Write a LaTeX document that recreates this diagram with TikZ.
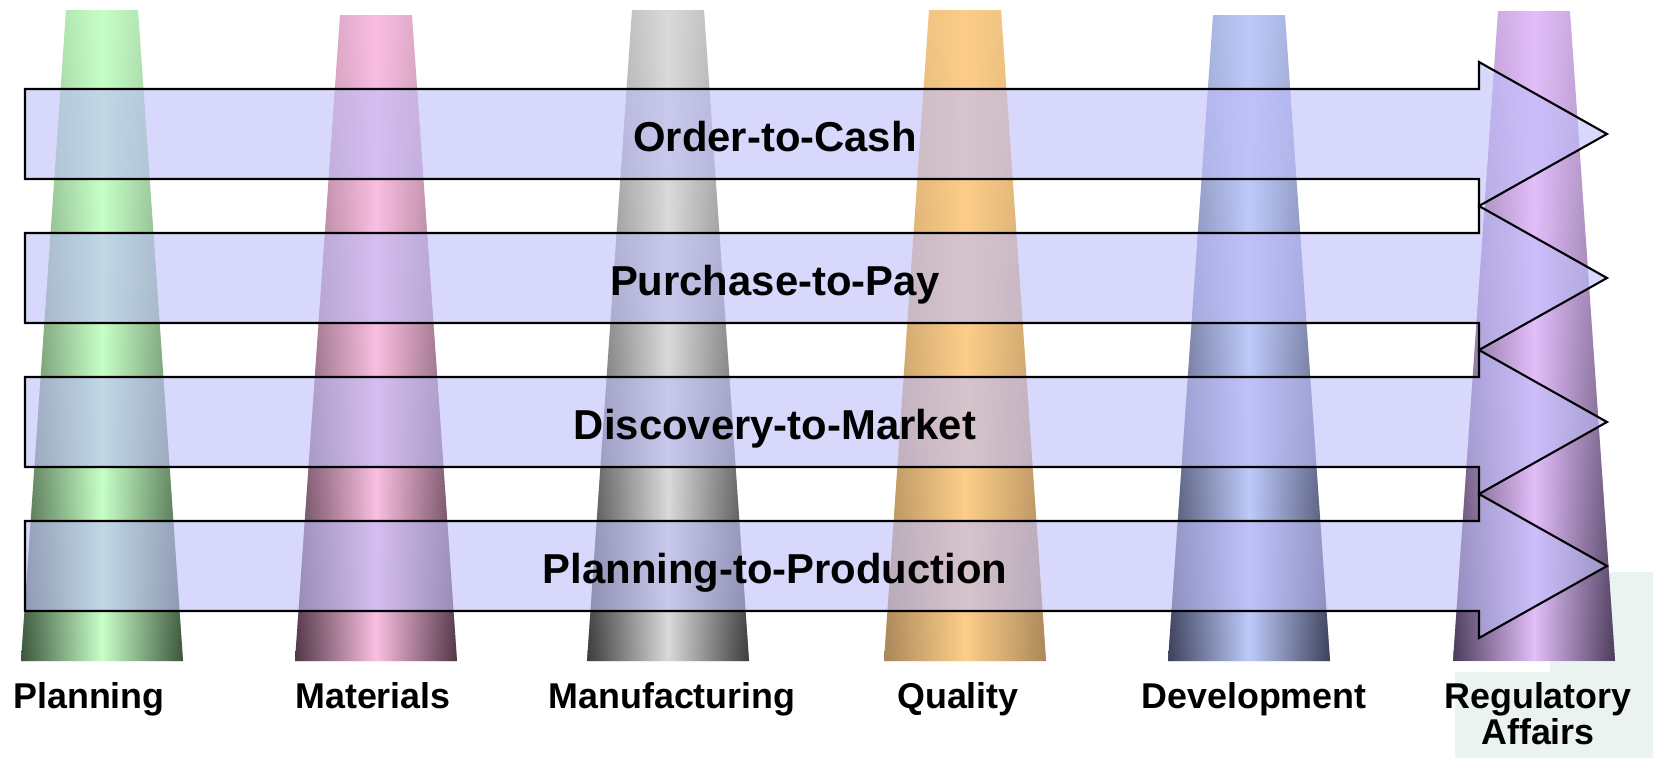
\documentclass[tikz,border=0pt]{standalone}
\usepackage{fontspec}
\setmainfont{Liberation Sans}
\usetikzlibrary{fadings}

\definecolor{liteplan}{RGB}{199,255,199}
\definecolor{darkplan}{RGB}{60,85,60}
\definecolor{litemat}{RGB}{250,190,225}
\definecolor{darkmat}{RGB}{80,55,70}
\definecolor{litemanu}{RGB}{218,218,218}
\definecolor{darkmanu}{RGB}{60,60,60}
\definecolor{litequal}{RGB}{253,206,137}
\definecolor{darkqual}{RGB}{170,135,90}
\definecolor{litedev}{RGB}{190,202,250}
\definecolor{darkdev}{RGB}{60,65,90}
\definecolor{litereg}{RGB}{226,190,250}
\definecolor{darkreg}{RGB}{75,60,90}
\definecolor{flowfill}{RGB}{190,190,250}
\definecolor{bgpatch}{RGB}{235,243,240}

\begin{document}
\begin{tikzpicture}[x=0.02cm,y=-0.02cm,
                    flow/.style={draw=black, line width=1.2pt, fill=flowfill, fill opacity=0.6},
                    flow label/.style={font=\bfseries\fontsize{23.8}{24}\selectfont, anchor=base},
                    area label/.style={font=\bfseries\fontsize{20.4}{20}\selectfont, anchor=base, align=center}]

  \useasboundingbox (0,0) rectangle (1653,758);

  %Background%
  \fill[bgpatch] (1550,572) rectangle (1653,758);
  \fill[bgpatch] (1455,672) rectangle (1653,758);

  %Pillars%
  \foreach \cx/\ty/\col in {102/10/plan, 376/15/mat, 668/10/manu, 965/10/qual, 1249/15/dev, 1534/11/reg} {
    \path[left color=dark\col!30!lite\col, right color=dark\col!30!lite\col, middle color=lite\col]
      (\cx-36,\ty) -- (\cx+36,\ty) -- (\cx+81,661) -- (\cx-81,661) -- cycle;
    \path[left color=dark\col, right color=dark\col, middle color=lite\col, path fading=north]
      (\cx-36,\ty) -- (\cx+36,\ty) -- (\cx+81,661) -- (\cx-81,661) -- cycle;
  }

  %Processes%
  \foreach \cy in {134,278,422,566}
    \draw[flow] (25,\cy-45) -- (1479,\cy-45) -- (1479,\cy-72) -- (1607,\cy)
      -- (1479,\cy+72) -- (1479,\cy+45) -- (25,\cy+45) -- cycle;

  \node[flow label] (o2c) at (775,151) {Order-to-Cash};
  \node[flow label] (p2p) at (775,295) {Purchase-to-Pay};
  \node[flow label] (d2m) at (775,439) {Discovery-to-Market};
  \node[flow label] (p2prod) at (775,583) {Planning-to-Production};

  %Areas%
  \node[area label] (plan) at (89,708) {Planning};
  \node[area label] (mat) at (373,708) {Materials};
  \node[area label] (manu) at (672,708) {Manufacturing};
  \node[area label] (qual) at (958,708) {Quality};
  \node[area label] (dev) at (1254,708) {Development};
  \node[area label] (reg) at (1538,744) {Regulatory\\Affairs};
\end{tikzpicture}
\end{document}
